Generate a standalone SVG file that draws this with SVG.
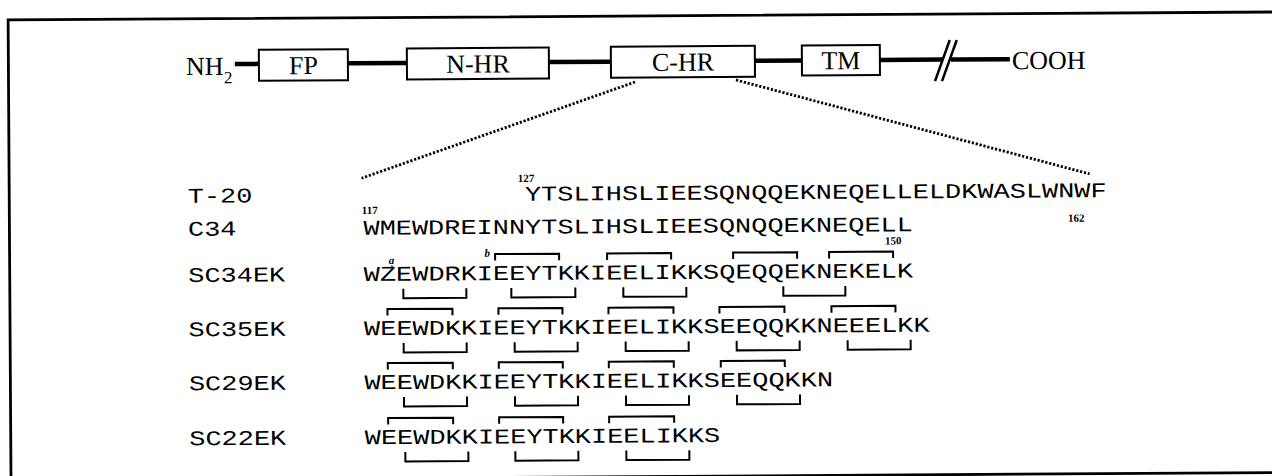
<svg xmlns="http://www.w3.org/2000/svg" width="1272" height="476" viewBox="0 0 1272 476">
  <style>
    .serif { font-family: "Liberation Serif", "Times New Roman", serif; fill: #000; }
    .lbl { font-size: 26px; }
    .box { fill: #fff; stroke: #000; stroke-width: 2; }
    .bar { stroke: #000; stroke-width: 4.5; fill: none; }
    .dots { stroke: #000; stroke-width: 2.8; stroke-dasharray: 2.2 1.8; fill: none; }
    .mono { font-family: "Liberation Mono", "Courier New", monospace; font-size: 21px; fill: #000; }
    .num { font-family: "Liberation Serif", "Times New Roman", serif; font-size: 11px; font-weight: bold; fill: #000; }
    .ital { font-family: "Liberation Serif", "Times New Roman", serif; font-size: 11px; font-weight: bold; font-style: italic; fill: #000; }
    .br { fill: none; stroke: #000; stroke-width: 2; }
  </style>
  <rect width="1272" height="476" fill="#fff"/>
  <g transform="rotate(-0.36 636 238)">
    <!-- outer frame (right edge runs off the page) -->
    <rect x="9.5" y="16" width="1290" height="460.6" fill="none" stroke="#000" stroke-width="2.8"/>

    <!-- domain map of the protein -->
    <g id="backbone">
      <line class="bar" x1="236" y1="61.5" x2="260" y2="61.5"/>
      <line class="bar" x1="349" y1="61.5" x2="408" y2="61.5"/>
      <line class="bar" x1="550" y1="61.5" x2="612" y2="61.5"/>
      <line class="bar" x1="756" y1="61.5" x2="803" y2="61.5"/>
      <line class="bar" x1="881" y1="61.5" x2="944" y2="61.5"/>
      <line class="bar" x1="952" y1="61.5" x2="1011" y2="61.5"/>
      <line x1="936" y1="83" x2="951" y2="42" stroke="#000" stroke-width="2.5"/>
      <line x1="943" y1="83" x2="958" y2="42" stroke="#000" stroke-width="2.5"/>
    </g>
    <g id="nterm">
      <text class="serif lbl" x="187" y="72.3">NH</text>
      <text class="serif" x="225" y="80.7" font-size="17">2</text>
    </g>
    <g id="fp">
      <rect class="box" x="260" y="47.5" width="89" height="31"/>
      <text class="serif lbl" x="304.5" y="72" text-anchor="middle">FP</text>
    </g>
    <g id="nhr">
      <rect class="box" x="408" y="47" width="142" height="31"/>
      <text class="serif lbl" x="479" y="71.5" text-anchor="middle">N-HR</text>
    </g>
    <g id="chr">
      <rect class="box" x="612" y="46.5" width="144" height="31"/>
      <text class="serif lbl" x="684" y="71" text-anchor="middle">C-HR</text>
    </g>
    <g id="tm">
      <rect class="box" x="803" y="46.5" width="78" height="30"/>
      <text class="serif lbl" x="842" y="70.5" text-anchor="middle">TM</text>
    </g>
    <g id="cterm">
      <text class="serif lbl" x="1013" y="71.6">COOH</text>
    </g>

    <!-- zoom-in lines from the C-HR box to the sequences -->
    <g id="connectors">
      <line class="dots" x1="636" y1="82" x2="362" y2="176.5"/>
      <line class="dots" x1="737" y1="80.6" x2="1090" y2="176.8"/>
    </g>

    <!-- peptide sequences: monospace widened to a 16.17px residue pitch -->
    <g id="t20">
      <text class="mono" transform="matrix(1.283 0 0 1 188 200)">T-20</text>
      <text class="num" x="518" y="181.3">127</text>
      <text class="mono" transform="matrix(1.283 0 0 1 525.2 200)">YTSLIHSLIEESQNQQEKNEQELLELDKWASLWNWF</text>
      <text class="num" x="1068" y="224.5">162</text>
    </g>
    <g id="c34">
      <text class="mono" transform="matrix(1.283 0 0 1 188 233)">C34</text>
      <text class="num" x="362" y="212.3">117</text>
      <text class="mono" transform="matrix(1.283 0 0 1 363.5 233)">WMEWDREINNYTSLIHSLIEESQNQQEKNEQELL</text>
      <text class="num" x="885" y="246">150</text>
    </g>
    <g id="sc34ek">
      <text class="mono" transform="matrix(1.283 0 0 1 188 279.2)">SC34EK</text>
      <text class="mono" transform="matrix(1.283 0 0 1 363.5 279.2)">WZEWDRKIEEYTKKIEELIKKSQEQQEKNEKELK</text>
      <text class="ital" x="388.5" y="262.5">a</text>
      <line x1="391.5" y1="264" x2="392.5" y2="267" stroke="#000" stroke-width="1"/>
      <text class="ital" x="484.5" y="255.8">b</text>
      <path class="br" d="M495 259.7V253.2H559V259.7M607 259.7V253.2H671V259.7M733 259.7V253.2H797V259.7M829 259.7V253.2H893V259.7"/>
      <path class="br" d="M403 287.2V296.7H466V287.2M511 287.2V296.7H575V287.2M623 287.2V296.7H686V287.2M783 287.2V296.7H845V287.2"/>
    </g>
    <g id="sc35ek">
      <text class="mono" transform="matrix(1.283 0 0 1 188 333.5)">SC35EK</text>
      <text class="mono" transform="matrix(1.283 0 0 1 363.5 333.5)">WEEWDKKIEEYTKKIEELIKKSEEQQKKNEEELKK</text>
      <path class="br" d="M387 314V307.5H452V314M498 314V307.5H562V314M608 314V307.5H673V314M719 314V307.5H784V314M831 314V307.5H895V314"/>
      <path class="br" d="M403 341.5V351H466V341.5M514 341.5V351H577V341.5M625 341.5V351H688V341.5M736 341.5V351H799V341.5M847 341.5V351H910V341.5"/>
    </g>
    <g id="sc29ek">
      <text class="mono" transform="matrix(1.283 0 0 1 188 387.5)">SC29EK</text>
      <text class="mono" transform="matrix(1.283 0 0 1 363.5 387.5)">WEEWDKKIEEYTKKIEELIKKSEEQQKKN</text>
      <path class="br" d="M387 368V361.5H452V368M498 368V361.5H562V368M608 368V361.5H673V368M720 368V361.5H784V368"/>
      <path class="br" d="M403 395.5V405H466V395.5M514 395.5V405H577V395.5M625 395.5V405H688V395.5M736 395.5V405H799V395.5"/>
    </g>
    <g id="sc22ek">
      <text class="mono" transform="matrix(1.283 0 0 1 188 442.5)">SC22EK</text>
      <text class="mono" transform="matrix(1.283 0 0 1 363.5 442.5)">WEEWDKKIEEYTKKIEELIKKS</text>
      <path class="br" d="M387 423V416.5H452V423M498 423V416.5H562V423M608 423V416.5H673V423"/>
      <path class="br" d="M404 450.5V460H467V450.5M514 450.5V460H577V450.5M625 450.5V460H688V450.5"/>
    </g>
  </g>
</svg>
